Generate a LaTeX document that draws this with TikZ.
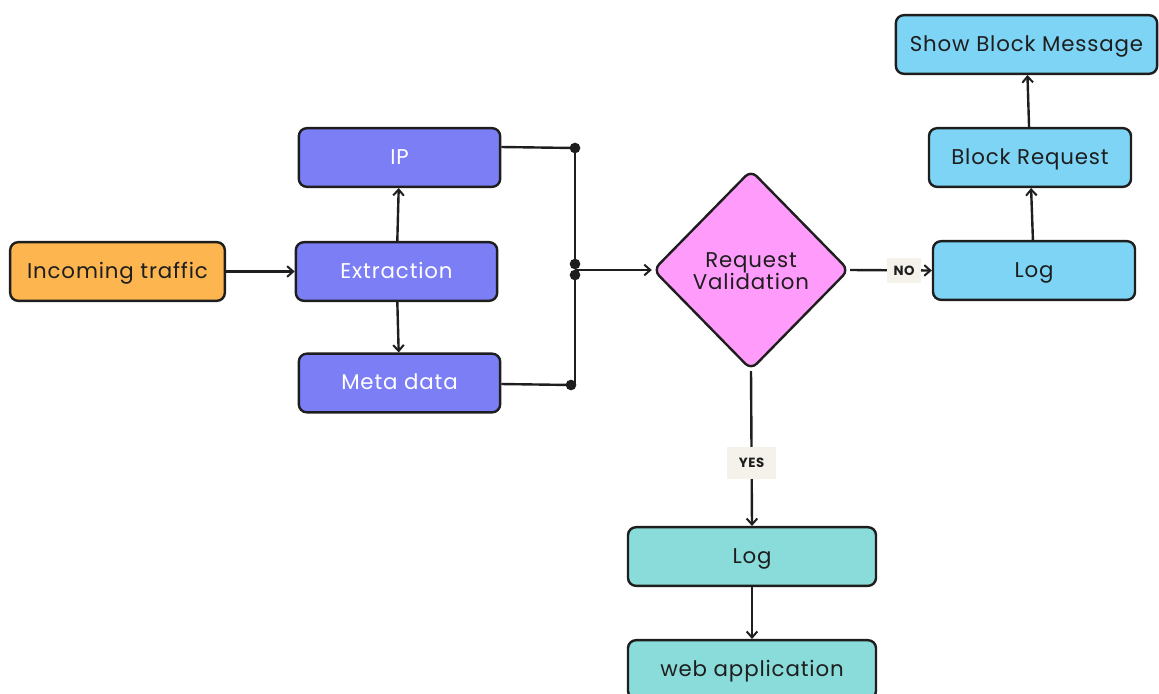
\documentclass[tikz,border=0pt]{standalone}
\usepackage{fontspec}
\setmainfont{Poppins}
\newfontfamily\spacedfont[LetterSpace=4]{Poppins}
\usetikzlibrary{shapes.geometric,arrows.meta}
\definecolor{inc}{HTML}{FDB54F}
\definecolor{ext}{HTML}{7B7EF5}
\definecolor{dec}{HTML}{FF9CFB}
\definecolor{blk}{HTML}{7DD4F5}
\definecolor{pas}{HTML}{8ADCDA}
\definecolor{tagbg}{HTML}{F5F2EB}
\definecolor{ink}{HTML}{1E1E1E}
\tikzset{
  box/.style={draw=ink, line width=1.8pt, rounded corners=6pt, minimum height=44pt,
    inner sep=0pt, text height=10.2pt, text depth=0pt,
    font=\spacedfont\fontsize{16pt}{18pt}\selectfont, text=ink},
  whitebox/.style={box, fill=ext, text=white, minimum width=151pt},
  link/.style={draw=ink, line width=1.8pt, -{Straight Barb[length=4.5pt,width=8pt,line width=1.5pt]}},
  wire/.style={draw=ink, line width=1.8pt},
  joint/.style={circle, fill=ink, inner sep=0pt, minimum size=8pt},
  tag/.style={fill=tagbg, font=\bfseries\spacedfont\fontsize{10pt}{12pt}\selectfont, text=ink, inner sep=0pt}
}
\begin{document}
\begin{tikzpicture}[x=0.75pt,y=-0.75pt]
\useasboundingbox (0,0) rectangle (1159,693);
\begin{scope}
\clip (0,0) rectangle (1159,693);
% source and extraction stage
\node[box, fill=inc, minimum width=161pt] (src) at (117.5,271.5) {Incoming traffic};
\node[whitebox] (ip) at (399.5,157.5) {IP};
\node[whitebox] (ext) at (396.5,271.5) {Extraction};
\node[whitebox] (meta) at (399.5,383) {Meta data};
% decision
\node[diamond, draw=ink, fill=dec, line width=1.8pt, rounded corners=6pt,
  minimum width=147pt, minimum height=150pt, inner sep=0pt] (val) at (751,270) {};
\node[align=center, inner sep=0pt, text=ink,
  font=\spacedfont\fontsize{16pt}{16.5pt}\selectfont] (valtext) at (751,271) {Request\\Validation};
% rejected branch
\node[box, fill=blk, minimum width=151.5pt] (logno) at (1034,270.5) {Log};
\node[box, fill=blk, minimum width=151.5pt] (block) at (1030,157.5) {Block Request};
\node[box, fill=blk, minimum width=196pt] (show) at (1026.5,44.5) {Show Block Message};
% accepted branch
\node[box, fill=pas, minimum width=186pt] (logyes) at (752,556.5) {Log};
\node[box, fill=pas, minimum width=186pt] (web) at (752,669.5) {web application};
% merge point
\node[joint] (j1) at (575,148) {};
\node[joint] (j2) at (575,264) {};
\node[joint] (j3) at (575,275) {};
\node[joint] (j4) at (571,385) {};
\coordinate (jm) at (575,270);
% connectors
\draw[link] (src) -- (ext);
\draw[link] (ext) -- (ip);
\draw[link] (ext) -- (meta);
\draw[wire] (ip.east |- 0,147) -- (j1.center);
\draw[wire] (meta.east |- 0,384) -- (j4.center);
\draw[wire] (j1.center) -- (j2.center);
\draw[wire] (j3.center) -- (575,385) -- (j4.center);
\draw[link] (jm) -- (val.west);
\draw[link] (val.east) -- node[tag, pos=0.66, minimum width=25pt, minimum height=19pt] {NO} (logno.west);
\draw[link] (val.south) -- node[tag, pos=0.59, minimum width=37pt, minimum height=24pt] {YES} (logyes.north);
\draw[link] (logno) -- (block);
\draw[link] (block) -- (show);
\draw[link] (logyes) -- (web);
\end{scope}
\end{tikzpicture}
\end{document}
